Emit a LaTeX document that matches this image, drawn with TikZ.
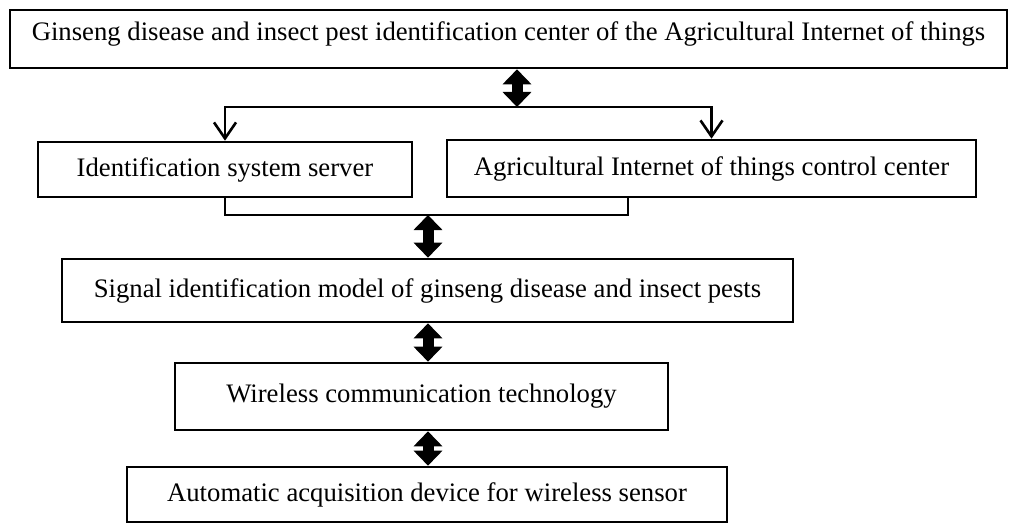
\documentclass[tikz,border=0pt]{standalone}
\usepackage{fontspec}
\setmainfont{Liberation Serif}
\usetikzlibrary{arrows.meta,positioning,calc}

\begin{document}
\begin{tikzpicture}[x=1pt, y=-1pt,
  blk/.style={draw=black, line width=2.6pt, inner sep=0pt,
              align=center, font=\fontsize{26.7}{32}\selectfont},
  link/.style={draw=black, line width=2.6pt},
  dbl/.style={draw=black, line width=11pt,
              {Triangle[length=15pt,width=28pt]}-{Triangle[length=15pt,width=28pt]}},
  down/.style={link, -{Straight Barb[length=16pt,width=22pt]}}
]
  \useasboundingbox (0,0) rectangle (1011,524);

  \node[blk, minimum width=997pt, minimum height=58pt, text depth=16pt] (hub) at (508.5,39)
    {Ginseng disease and insect pest identification center of the Agricultural Internet of things};
  \node[blk, minimum width=374pt, minimum height=55pt] (srv)  at (225,169.5)
    {Identification system server};
  \node[blk, minimum width=529pt, minimum height=57pt] (ctrl) at (711.5,168.5)
    {Agricultural Internet of things control center};
  \node[blk, minimum width=731pt, minimum height=63pt] (sig)  at (427.5,290.5)
    {Signal identification model of ginseng disease and insect pests};
  \node[blk, minimum width=493pt, minimum height=67pt] (wls)  at (421.5,396.5)
    {Wireless communication technology};
  \node[blk, minimum width=600pt, minimum height=55pt] (acq)  at (427,494.5)
    {Automatic acquisition device for wireless sensor};

  \coordinate (split) at (517,107);
  \coordinate (merge) at (428,215);
  \coordinate (bend)  at (628,215);

  \draw[dbl] (split |- hub.south) -- (split);
  \draw[down] (split) -| (srv.north);
  \draw[down] (split) -| (ctrl.north);

  \draw[link] (srv.south) |- (bend) -- (bend |- ctrl.south);
  \draw[dbl] (merge) -- (merge |- sig.north);
  \draw[dbl] (merge |- sig.south) -- (merge |- wls.north);
  \draw[dbl] (merge |- wls.south) -- (merge |- acq.north);

\end{tikzpicture}
\end{document}
